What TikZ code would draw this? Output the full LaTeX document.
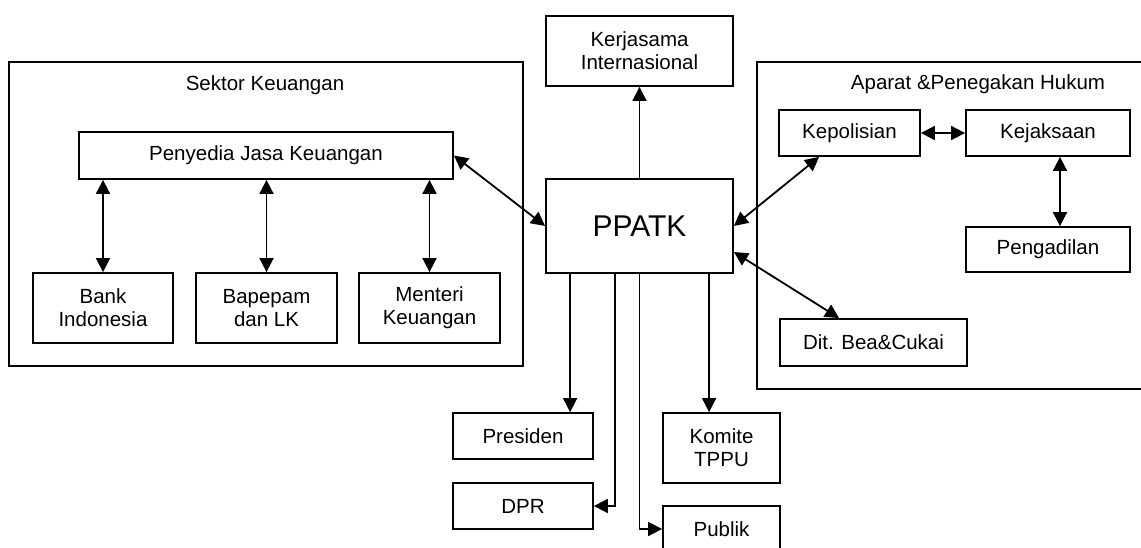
\documentclass[tikz,border=0pt]{standalone}
\usepackage{fontspec}
\setmainfont{Liberation Sans}
\usetikzlibrary{arrows.meta,calc}
\begin{document}
\begin{tikzpicture}[x=1pt,y=-1pt,
  box/.style={draw, line width=1.8pt, inner sep=0pt, align=center, font=\fontsize{20.5}{23}\selectfont},
  lbl/.style={inner sep=0pt, font=\fontsize{20.5}{23}\selectfont},
  conn/.style={line width=1.8pt, -{Triangle[length=14pt,width=14pt]}},
  bconn/.style={line width=1.8pt, {Triangle[length=14pt,width=14pt]}-{Triangle[length=14pt,width=14pt]}}]
\clip (0,0) rectangle (1141,548);
\fill[white] (0,0) rectangle (1141,548);
% groups
\node[box, minimum width=514pt, minimum height=304pt] (sektor) at (266,214) {};
\node[lbl] (sektorlbl) at (265,85) {Sektor Keuangan};
\node[box, minimum width=403pt, minimum height=327pt] (aparat) at (958.5,225.5) {};
\node[lbl] (aparatlbl) at (978,84) {Aparat \&Penegakan Hukum};
% nodes
\node[box, minimum width=374pt, minimum height=47pt] (penyedia) at (266,155.5) {Penyedia Jasa Keuangan};
\node[box, minimum width=140pt, minimum height=70pt] (bank) at (103,308) {Bank\\Indonesia};
\node[box, minimum width=141pt, minimum height=70pt] (bapepam) at (266.5,308) {Bapepam\\dan LK};
\node[box, minimum width=141pt, minimum height=70pt] (menteri) at (429.5,308) {Menteri\\Keuangan};
\node[box, minimum width=187pt, minimum height=70pt] (kerja) at (639.5,51) {Kerjasama\\Internasional};
\node[box, minimum width=187pt, minimum height=94pt, font=\fontsize{30}{32}\selectfont] (ppatk) at (639.5,226) {PPATK};
\node[box, minimum width=141pt, minimum height=46pt] (kepol) at (849.5,133) {Kepolisian};
\node[box, minimum width=164pt, minimum height=46pt] (kejak) at (1048,133) {Kejaksaan};
\node[box, minimum width=164pt, minimum height=45pt] (penga) at (1048,249.5) {Pengadilan};
\node[box, minimum width=187pt, minimum height=47pt] (bea) at (873.5,342.5) {Dit. Bea\&Cukai};
\node[box, minimum width=140pt, minimum height=46pt] (presiden) at (523,436) {Presiden};
\node[box, minimum width=140pt, minimum height=46pt] (dpr) at (523,506) {DPR};
\node[box, minimum width=117pt, minimum height=70pt] (komite) at (721.5,448) {Komite\\TPPU};
\node[box, minimum width=117pt, minimum height=46pt] (publik) at (721.5,529) {Publik};
% helper coordinates
\coordinate (kp) at ($(kepol.south west)+(41,0)$);
\coordinate (pb) at ($(ppatk.east)+(0,26)$);
\coordinate (bt) at ($(bea.north west)+(60,0)$);
\coordinate (kj) at ($(kejak.south)+(12,0)$);
\coordinate (pg) at ($(penga.north)+(12,0)$);
\coordinate (sp) at ($(ppatk.south west)+(25,0)$);
\coordinate (sd) at ($(ppatk.south west)+(70,0)$);
\coordinate (sk) at ($(ppatk.south west)+(164,0)$);
% connectors
\draw[bconn] (bank.north) -- (penyedia.south -| bank.north);
\draw[bconn] (bapepam.north) -- (penyedia.south -| bapepam.north);
\draw[bconn] (menteri.north) -- (penyedia.south -| menteri.north);
\draw[bconn] (penyedia.east) -- (ppatk.west);
\draw[conn] (ppatk.north) -- (kerja.south);
\draw[bconn] (kp) -- (ppatk.east);
\draw[bconn] (pb) -- (bt);
\draw[bconn] (kepol.east) -- (kejak.west);
\draw[bconn] (kj) -- (pg);
\draw[conn] (sp) -- (presiden.north -| sp);
\draw[conn] (sd) |- (dpr.east);
\draw[conn] (ppatk.south) |- (publik.west);
\draw[conn] (sk) -- (komite.north -| sk);
\end{tikzpicture}
\end{document}
